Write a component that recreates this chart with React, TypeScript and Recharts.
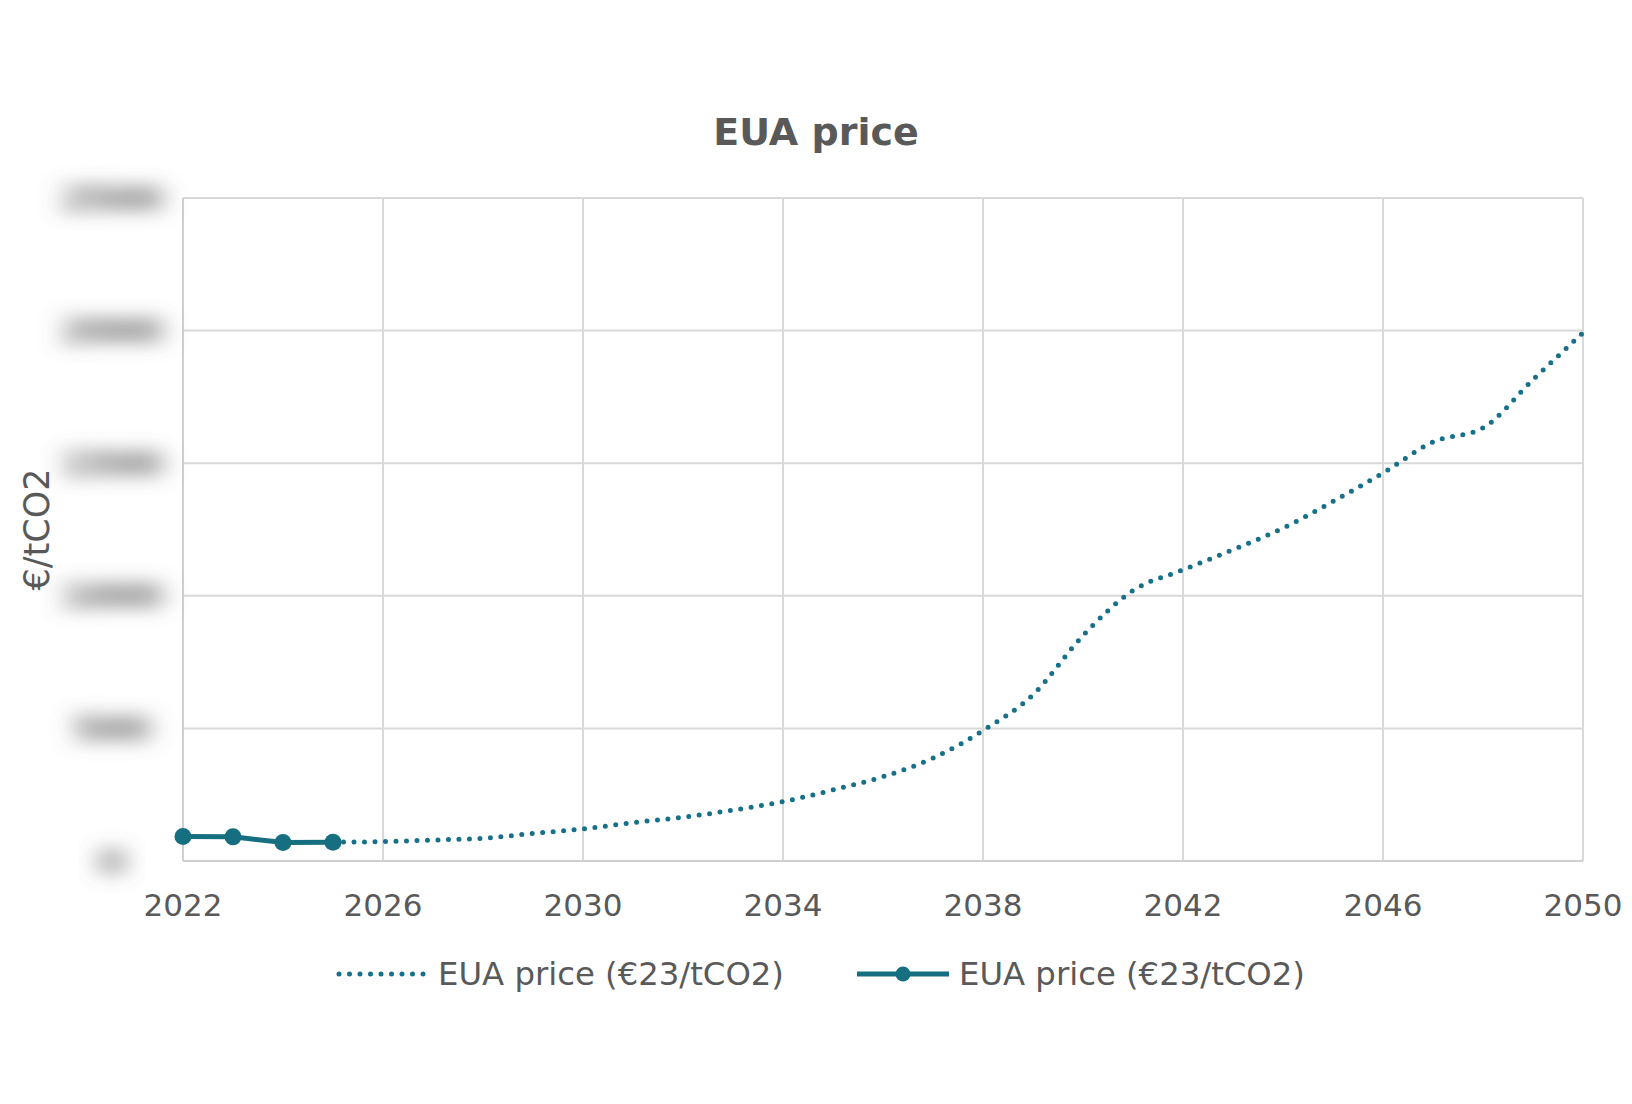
import React from 'react';
import { LineChart, Line, XAxis, YAxis, CartesianGrid } from 'recharts';

// ---- Data ----
const years = [2022, 2023, 2024, 2025, 2026, 2027, 2028, 2029, 2030, 2031, 2032, 2033, 2034, 2035, 2036, 2037, 2038, 2039, 2040, 2041, 2042, 2043, 2044, 2045, 2046, 2047, 2048, 2049, 2050];
const historicalYears = [2022, 2023, 2024, 2025];
const historicalPrice = [92, 91, 70, 71];
const projectionYears = [2025, 2026, 2027, 2028, 2029, 2030, 2031, 2032, 2033, 2034, 2035, 2036, 2037, 2038, 2039, 2040, 2041, 2042, 2043, 2044, 2045, 2046, 2047, 2048, 2049, 2050];
const projectionPrice = [71, 73, 79, 86, 104, 121, 145, 165, 192, 224, 268, 318, 388, 492, 627, 850, 1020, 1098, 1174, 1255, 1356, 1463, 1580, 1633, 1815, 1992];
const xTicks = [2022, 2026, 2030, 2034, 2038, 2042, 2046, 2050];
const yTicks = [0, 500, 1000, 1500, 2000, 2500];

const title = 'EUA price';
const yLabel = '€/tCO2';
const seriesName = 'EUA price (€23/tCO2)';

const tableData = years.map((year) => {
  const hi = historicalYears.indexOf(year);
  const pi = projectionYears.indexOf(year);
  return {
    year,
    actual: hi >= 0 ? historicalPrice[hi] : null,
    projection: pi >= 0 ? projectionPrice[pi] : null,
  };
});

// ---- Styles ----
const FONT = '"DejaVu Sans", Verdana, sans-serif';
const TEXT = '#595959';
const GRID = '#d9d9d9';
const DOT_COLOR = '#17708a';
const LINE_COLOR = '#166f80';

const BlurTick = (props: any) => {
  const { y, payload, index } = props;
  const id = `tick-blur-${index}`;
  return (
    <g>
      <defs>
        <filter id={id} x="-80%" y="-200%" width="260%" height="500%" filterUnits="objectBoundingBox">
          <feGaussianBlur stdDeviation="13 9" />
        </filter>
      </defs>
      <text
        x={112}
        y={y}
        textAnchor="middle"
        dominantBaseline="central"
        fontFamily={FONT}
        fontWeight="bold"
        fontSize={36}
        fill="#666666"
        filter={`url(#${id})`}
      >
        {payload.value}
      </text>
    </g>
  );
};

const YLabel = (props: any) => {
  const vb = props.viewBox || { y: 198, height: 663 };
  const cx = 37;
  const cy = vb.y + vb.height / 2;
  return (
    <text
      x={cx}
      y={cy}
      transform={`rotate(-90 ${cx} ${cy})`}
      textAnchor="middle"
      dominantBaseline="central"
      fontFamily={FONT}
      fontSize={35}
      fill={TEXT}
    >
      {yLabel}
    </text>
  );
};

export default function App() {
  return (
    <div style={{ position: 'absolute', left: 0, top: 0, width: 1632, height: 1104, background: '#fff', fontFamily: FONT }}>
      <div
        style={{
          position: 'absolute',
          top: 110,
          left: 0,
          width: 1632,
          height: 44,
          lineHeight: '44px',
          textAlign: 'center',
          fontWeight: 'bold',
          fontSize: 38,
          color: TEXT,
          fontFamily: FONT,
        }}
      >
        {title}
      </div>
      <LineChart
        width={1632}
        height={1104}
        data={tableData}
        margin={{ top: 198, right: 49, bottom: 163, left: 0 }}
      >
        <CartesianGrid stroke={GRID} strokeWidth={2} />
        <XAxis
          dataKey="year"
          type="number"
          domain={[2022, 2050]}
          ticks={xTicks}
          height={80}
          tickLine={false}
          tickSize={0}
          tickMargin={33}
          axisLine={{ stroke: '#cfcfcf', strokeWidth: 2 }}
          tick={{ fill: TEXT, fontSize: 31, fontFamily: FONT }}
          interval={0}
        />
        <YAxis
          type="number"
          domain={[0, 2500]}
          ticks={yTicks}
          width={183}
          tickLine={false}
          axisLine={{ stroke: '#cfcfcf', strokeWidth: 2 }}
          tick={<BlurTick />}
          interval={0}
          label={{ content: <YLabel /> }}
        />
        <Line
          dataKey="projection"
          type="monotone"
          stroke={DOT_COLOR}
          strokeWidth={5}
          strokeDasharray="0 10.5"
          strokeLinecap="round"
          dot={false}
          activeDot={false}
          connectNulls={false}
          isAnimationActive={false}
        />
        <Line
          dataKey="actual"
          type="linear"
          stroke={LINE_COLOR}
          strokeWidth={5}
          dot={{ r: 8.5, fill: LINE_COLOR, stroke: LINE_COLOR, strokeWidth: 0 }}
          activeDot={false}
          connectNulls={false}
          isAnimationActive={false}
        />
      </LineChart>
      <div
        style={{
          position: 'absolute',
          top: 949,
          left: 336,
          height: 50,
          display: 'flex',
          alignItems: 'center',
          fontFamily: FONT,
          fontSize: 32.3,
          color: TEXT,
          whiteSpace: 'nowrap',
        }}
      >
        <svg width={92} height={20} style={{ marginRight: 10 }}>
          <line x1={3} y1={10} x2={90} y2={10} stroke={DOT_COLOR} strokeWidth={5} strokeDasharray="0 10.5" strokeLinecap="round" />
        </svg>
        <span>{seriesName}</span>
        <svg width={92} height={20} style={{ marginLeft: 73, marginRight: 10 }}>
          <line x1={0} y1={10} x2={92} y2={10} stroke={LINE_COLOR} strokeWidth={5} />
          <circle cx={46} cy={10} r={7.5} fill={LINE_COLOR} />
        </svg>
        <span>{seriesName}</span>
      </div>
    </div>
  );
}
